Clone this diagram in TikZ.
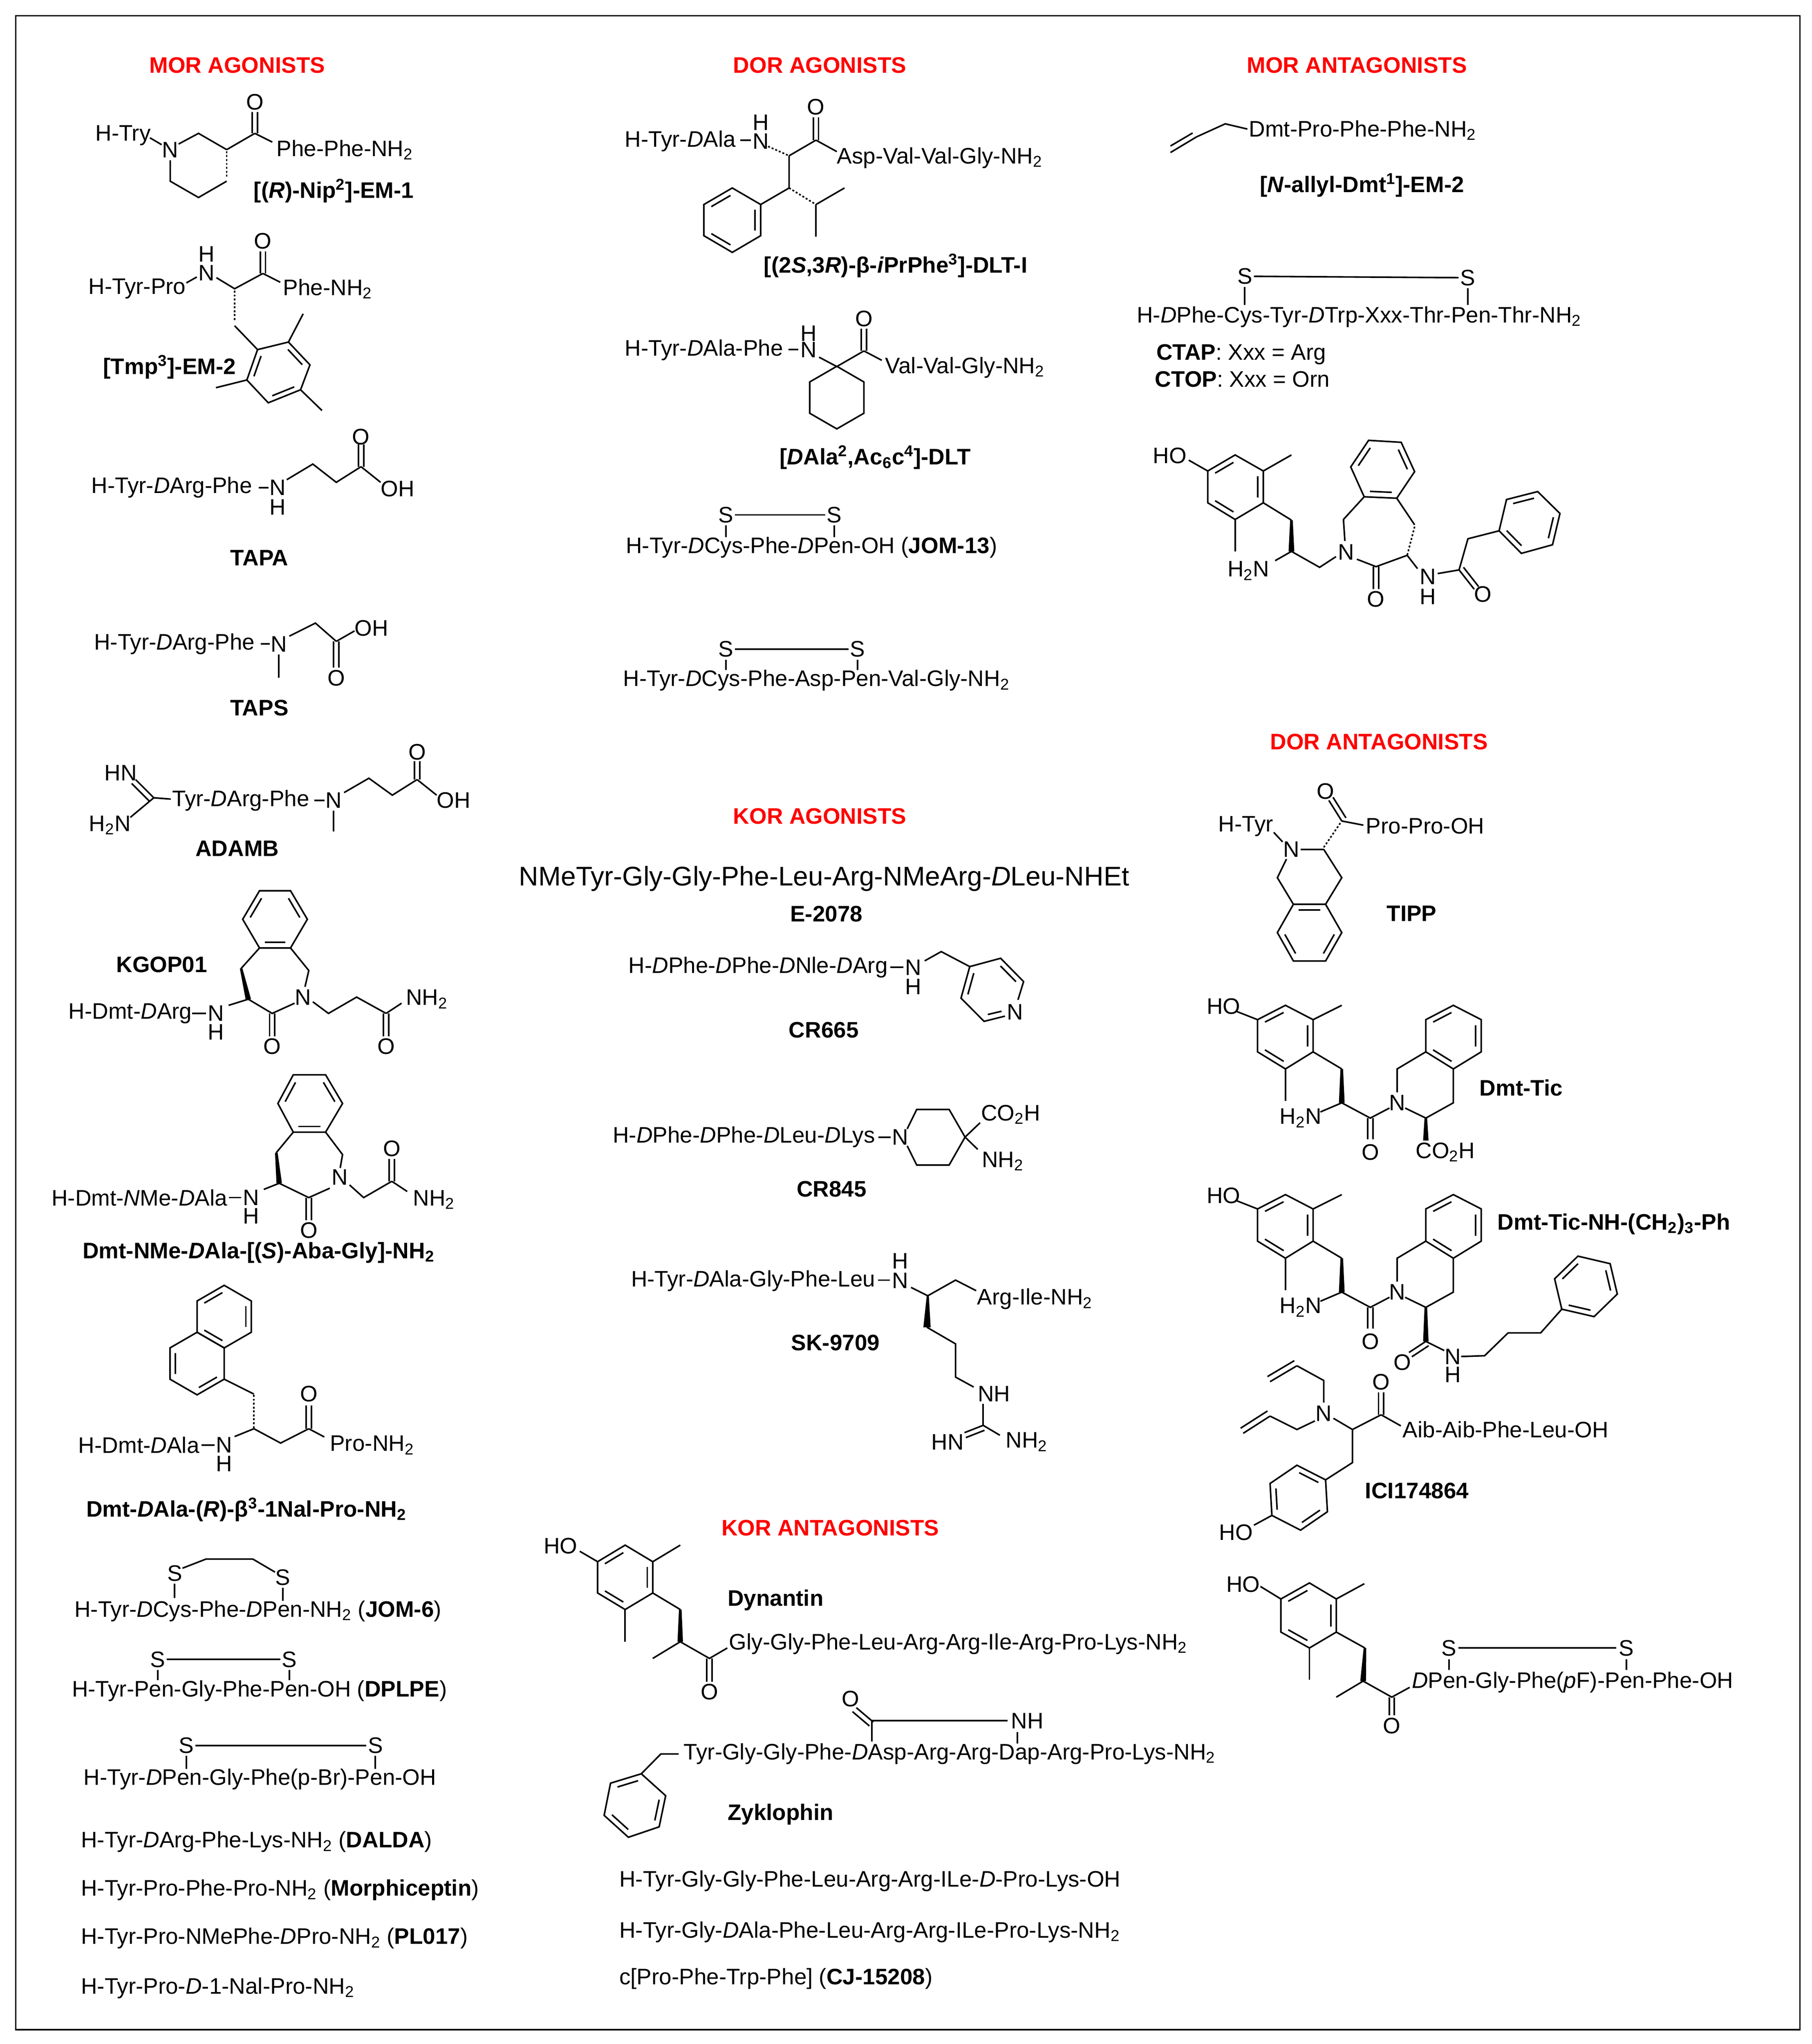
\documentclass[tikz,border=0pt]{standalone}
\usepackage{fontspec}
\setmainfont{Liberation Sans}
\usetikzlibrary{calc}
\newcommand\Dd{\textit{D}}
\newcommand\Sb[1]{\textsubscript{#1}}
\newcommand\ring[4]{\draw[bond] (#1,#2)+(#4:#3) -- +(#4+60:#3) -- +(#4+120:#3) -- +(#4+180:#3) -- +(#4+240:#3) -- +(#4+300:#3) -- cycle;}
% inner double-bond line of edge A-B toward centre C
\newcommand\ib[3]{\draw[bond,shorten <=1.6pt,shorten >=1.6pt] ($(#1)!0.2!(#3)$) -- ($(#2)!0.2!(#3)$);}
\newcommand\DmtTic{%
\node[atm] at (938.7,772) {HO};
\draw[bond] (949,776) -- (964.8,782.2);
\draw[bond] (964.8,782.2) -- (986.2,771.2) -- (1007.4,782.2) -- (1007.4,806.9) -- (986.2,820) -- (964.8,806.9) -- cycle;
\ib{964.8,782.2}{986.2,771.2}{986.2,795.1}\ib{1007.4,782.2}{1007.4,806.9}{986.2,795.1}\ib{964.8,806.9}{986.2,820}{986.2,795.1}
\draw[bond] (1007.4,782.2) -- (1029.4,771.2);
\draw[bond] (986.2,820) -- (986.2,844.6);
\draw[bond] (1007.4,806.9) -- (1029.4,820);
\fill (1028.4,820) -- (1030.4,820) -- (1031.6,846) -- (1027.2,846) -- cycle;
\draw[bond] (1029.4,846) -- (1013,853);
\node[atm] at (997.8,857.7) {H\Sb{2}N};
\draw[bond] (1029.4,846) -- (1051.3,857.7) -- (1066,850);
\draw[bond] (1049.3,857.7) -- (1049.3,874); \draw[bond] (1053.3,857.7) -- (1053.3,874);
\node[atm] at (1051.3,883.8) {O};
\node[atm] at (1071.9,846) {N};
\draw[bond] (1071.9,838) -- (1071.9,820) -- (1093.9,806.9);
\draw[bond] (1093.9,806.9) -- (1093.9,782.2) -- (1115,771.2) -- (1136.4,782.2) -- (1136.4,806.9) -- (1115,820) -- cycle;
\ib{1093.9,782.2}{1115,771.2}{1115,795.1}\ib{1136.4,782.2}{1136.4,806.9}{1115,795.1}\ib{1093.9,806.9}{1115,820}{1115,795.1}
\draw[bond] (1115,820) -- (1115,846) -- (1093.9,857.7) -- (1078,850);}
\begin{document}
\begin{tikzpicture}[x=1pt,y=-1pt,
 bond/.style={line width=1.2pt},
 hd/.style={text=red,font=\fontsize{17.2}{20}\selectfont\bfseries,inner sep=0},
 tx/.style={anchor=west,inner sep=0,font=\fontsize{17.2}{20}\selectfont},
 bd/.style={anchor=west,inner sep=0,font=\fontsize{17.2}{20}\selectfont\bfseries},
 atm/.style={inner sep=0,font=\fontsize{17.2}{20}\selectfont},
 bdc/.style={inner sep=0,font=\fontsize{17.2}{20}\selectfont\bfseries},
 wedge/.style={line width=3pt},
 hash/.style={line width=1.2pt,dash pattern=on 1.5pt off 1.5pt}]
\useasboundingbox (0,0) rectangle (1390,1568);
\draw[line width=1pt] (12,12) rectangle (1381,1557);
% headings
\node[hd] (h1) at (182,50) {MOR AGONISTS};
\node[hd] (h2) at (629,50) {DOR AGONISTS};
\node[hd] (h3) at (1041,50) {MOR ANTAGONISTS};
\node[hd] (h4) at (629,626) {KOR AGONISTS};
\node[hd] (h5) at (637,1172) {KOR ANTAGONISTS};
\node[hd] (h6) at (1058,569) {DOR ANTAGONISTS};
% ===== left column
% Nip
\node[tx] at (73,104) {H-Try};
\draw[bond] (115,105.7) -- (124,111);
\node[atm] at (130.6,115) {N};
\draw[bond] (137,110.5) -- (152.3,102.3) -- (173.9,114.8);
\draw[hash] (173.9,116) -- (173.9,136);
\draw[bond] (173.9,139) -- (152.3,151.5) -- (130.6,139) -- (130.6,123);
\draw[bond] (173.9,114.8) -- (195.5,102.3);
\draw[bond] (193.5,102.3) -- (193.5,86); \draw[bond] (197.5,102.3) -- (197.5,86);
\node[atm] at (195.5,78.2) {O};
\draw[bond] (195.5,102.3) -- (208.9,109);
\node[tx] at (212,115) {Phe-Phe-NH\Sb{2}};
\node[bd] at (194.5,146.5) {[(\textit{R})-Nip\textsuperscript{2}]-EM-1};
% Tmp
\node[tx] at (67.8,221.5) {H-Tyr-Pro};
\draw[bond] (143,217) -- (151,212.5);
\node[atm] at (158.5,195) {H}; \node[atm] at (158.5,209.5) {N};
\draw[bond] (166,213) -- (180,221.5) -- (201.7,209.8);
\draw[bond] (199.7,209.8) -- (199.7,193); \draw[bond] (203.7,209.8) -- (203.7,193);
\node[atm] at (201.7,184.8) {O};
\draw[bond] (201.7,209.8) -- (215,216.5);
\node[tx] at (217,221.5) {Phe-NH\Sb{2}};
\draw[hash] (180,223) -- (180,245.7);
\draw[bond] (180,249.9) -- (197.6,268.2);
\draw[bond] (197.6,268.2) -- (221.3,262.4) -- (237.8,279.9) -- (230.6,299) -- (205.8,309) -- (189.4,291.5) -- cycle;
\ib{197.6,268.2}{189.4,291.5}{213.8,285}\ib{221.3,262.4}{237.8,279.9}{213.8,285}\ib{230.6,299}{205.8,309}{213.8,285}
\draw[bond] (221.3,262.4) -- (232.6,240.7);
\draw[bond] (189.4,291.5) -- (165.7,297.4);
\draw[bond] (230.6,299) -- (247,314.9);
\node[bd] at (79,281.5) {[Tmp\textsuperscript{3}]-EM-2};
% TAPA
\node[tx] at (70,374) {H-Tyr-\Dd Arg-Phe};
\draw[bond] (198.5,374) -- (206,374);
\node[atm] at (213,374) {N}; \node[atm] at (213,389) {H};
\draw[bond] (220,368) -- (240,356) -- (258,370) -- (277,358);
\draw[bond] (275,358) -- (275,341); \draw[bond] (279,358) -- (279,341);
\node[atm] at (277,335) {O};
\draw[bond] (277,358) -- (292,370);
\node[tx] at (292,375) {OH};
\node[bdc] at (199,428) {TAPA};
% TAPS
\node[tx] at (72,494) {H-Tyr-\Dd Arg-Phe};
\draw[bond] (200,494) -- (207,494);
\node[atm] at (214,494) {N};
\draw[bond] (214,502) -- (214,520);
\draw[bond] (222,488) -- (242,478) -- (258,492);
\draw[bond] (256,492) -- (256,512); \draw[bond] (260,492) -- (260,512);
\node[atm] at (258,520) {O};
\draw[bond] (258,492) -- (272,484);
\node[tx] at (272,482) {OH};
\node[bdc] at (199,543) {TAPS};
% ADAMB
\node[tx] at (80,593) {HN}; \node[tx] at (68,633) {H\Sb{2}N};
\draw[bond] (104,598) -- (118,612); \draw[bond] (101,601) -- (115,615);
\draw[bond] (100,627) -- (118,612) -- (131,613);
\node[tx] at (132,614) {Tyr-\Dd Arg-Phe};
\draw[bond] (241,614) -- (249,614);
\node[atm] at (256,614) {N};
\draw[bond] (256,622) -- (256,638);
\draw[bond] (264,608) -- (283,597) -- (301,610) -- (320,598);
\draw[bond] (318,598) -- (318,584); \draw[bond] (322,598) -- (322,584);
\node[atm] at (320,577) {O};
\draw[bond] (320,598) -- (335,610);
\node[tx] at (335,614) {OH};
\node[bdc] at (182,651) {ADAMB};
% KGOP01
\node[bd] at (89,740) {KGOP01};
\node[tx] at (52.4,777.4) {H-Dmt-\Dd Arg};
\draw[bond] (147.3,777.4) -- (158.1,777.4);
\node[atm] at (165.7,777.4) {N}; \node[atm] at (165.7,791.6) {H};
\draw[bond] (175.4,771.2) -- (190.5,766.5);
\fill (184,742.9) -- (186,742.9) -- (192.6,766.5) -- (188.4,766.5) -- cycle;
\draw[bond] (185,742.9) -- (199.1,727.2);
\draw[bond] (199.1,727.2) -- (186.2,705.2) -- (199.1,683.3) -- (222.9,683.3) -- (235.8,705.2) -- (222.9,727.2) -- cycle;
\ib{186.2,705.2}{199.1,683.3}{211,705.2}\ib{222.9,683.3}{235.8,705.2}{211,705.2}\ib{199.1,727.2}{222.9,727.2}{211,705.2}
\draw[bond] (222.9,727.2) -- (236.9,744.5) -- (234,757);
\node[atm] at (232.6,765) {N};
\draw[bond] (190.5,766.5) -- (208.8,777.4) -- (226,769.6);
\draw[bond] (206.8,777.4) -- (206.8,795); \draw[bond] (210.8,777.4) -- (210.8,795);
\node[atm] at (208.8,802.6) {O};
\draw[bond] (240,768.5) -- (252,777.4) -- (273.6,764.9) -- (296.2,777.4);
\draw[bond] (294.2,777.4) -- (294.2,795); \draw[bond] (298.2,777.4) -- (298.2,795);
\node[atm] at (296.2,802.6) {O};
\draw[bond] (296.2,777.4) -- (308.1,769.6);
\node[tx] at (311.3,766.5) {NH\Sb{2}};
% Dmt-NMe-DAla
\node[tx] at (39.4,918.7) {H-Dmt-\textit{N}Me-\Dd Ala};
\draw[bond] (175.5,918.7) -- (185.1,918.7);
\node[atm] at (192.6,918.7) {N}; \node[atm] at (192.6,932.8) {H};
\draw[bond] (202.4,912.4) -- (214.2,907.7);
\fill (211,884.2) -- (213,884.2) -- (216.3,907.7) -- (212.1,907.7) -- cycle;
\draw[bond] (212,884.2) -- (225,868.5);
\draw[bond] (225,868.5) -- (213.2,846.5) -- (225,824.5) -- (249.8,824.5) -- (262.8,846.5) -- (249.8,868.5) -- cycle;
\ib{213.2,846.5}{225,824.5}{237.4,846.5}\ib{249.8,824.5}{262.8,846.5}{237.4,846.5}\ib{225,868.5}{249.8,868.5}{237.4,846.5}
\draw[bond] (249.8,868.5) -- (262.8,885.7) -- (261,896);
\node[atm] at (260.6,903) {N};
\draw[bond] (214.2,907.7) -- (236.9,918.7) -- (253,911.5);
\draw[bond] (234.9,918.7) -- (234.9,936); \draw[bond] (238.9,918.7) -- (238.9,936);
\node[atm] at (236.9,943.8) {O};
\draw[bond] (268.2,909) -- (279,918.7) -- (300.6,906.2);
\draw[bond] (298.6,906.2) -- (298.6,889); \draw[bond] (302.6,906.2) -- (302.6,889);
\node[atm] at (300.6,881) {O};
\draw[bond] (300.6,906.2) -- (312.4,914);
\node[tx] at (316.7,920.3) {NH\Sb{2}};
\node[bd] at (63.2,961) {Dmt-NMe-\Dd Ala-[(\textit{S})-Aba-Gly]-NH\Sb{2}};
% Nal
\ring{172}{1010}{24}{30}
\ring{151.2}{1046}{24}{30}
\ib{151.2,998}{172,986}{172,1010}\ib{192.8,998}{192.8,1022}{172,1010}\ib{151.2,1022}{172,1034}{172,1010}
\ib{130.4,1034}{130.4,1058}{151.2,1046}\ib{151.2,1070}{172,1058}{151.2,1046}
\draw[bond] (172,1058) -- (194.8,1069.4);
\draw[hash] (194.8,1070) -- (194.8,1096);
\node[tx] at (60,1108.6) {H-Dmt-\Dd Ala};
\draw[bond] (154.5,1108.6) -- (164.5,1108.6);
\node[atm] at (172,1108.6) {N}; \node[atm] at (172,1123) {H};
\draw[bond] (180,1102) -- (194.8,1096) -- (215.3,1107) -- (236.9,1096);
\draw[bond] (234.9,1096) -- (234.9,1078); \draw[bond] (238.9,1096) -- (238.9,1078);
\node[atm] at (236.9,1069.4) {O};
\draw[bond] (236.9,1096) -- (248.8,1102.3);
\node[tx] at (253,1108.6) {Pro-NH\Sb{2}};
\node[bd] at (66,1158) {Dmt-\Dd Ala-(\textit{R})-β\textsuperscript{3}-1Nal-Pro-NH\Sb{2}};
% JOM-6
\node[atm] at (134,1207) {S}; \node[atm] at (217,1210) {S};
\draw[bond] (134,1215) -- (134,1226);
\draw[bond] (140,1203) -- (158,1196) -- (194,1196) -- (211,1206);
\draw[bond] (217,1218) -- (217,1228);
\node[tx] at (57,1236) {H-Tyr-\Dd Cys-Phe-\Dd Pen-NH\Sb{2} (\textbf{JOM-6})};
% DPLPE
\node[atm] at (121,1273) {S}; \node[atm] at (222,1273) {S};
\draw[bond] (128,1273) -- (215,1273);
\draw[bond] (121,1281) -- (121,1289); \draw[bond] (222,1281) -- (222,1289);
\node[tx] at (55,1297) {H-Tyr-Pen-Gly-Phe-Pen-OH (\textbf{DPLPE})};
\node[atm] at (143,1339) {S}; \node[atm] at (288,1339) {S};
\draw[bond] (150,1339) -- (281,1339);
\draw[bond] (143,1347) -- (143,1357); \draw[bond] (288,1347) -- (288,1357);
\node[tx] at (64,1365) {H-Tyr-\Dd Pen-Gly-Phe(p-Br)-Pen-OH};
\node[tx] at (62,1413) {H-Tyr-\Dd Arg-Phe-Lys-NH\Sb{2} (\textbf{DALDA})};
\node[tx] at (62,1450) {H-Tyr-Pro-Phe-Pro-NH\Sb{2} (\textbf{Morphiceptin})};
\node[tx] at (62,1487) {H-Tyr-Pro-NMePhe-\Dd Pro-NH\Sb{2} (\textbf{PL017})};
\node[tx] at (62,1525) {H-Tyr-Pro-\textit{D}-1-Nal-Pro-NH\Sb{2}};
% ===== middle column
\node[tx] at (479.2,108.3) {H-Tyr-\Dd Ala};
\draw[bond] (568,107.5) -- (576,107.5);
\node[atm] at (583.6,94) {H}; \node[atm] at (583.6,108.3) {N};
\draw[hash] (589.3,112.3) -- (605.4,119.5);
\draw[bond] (605.4,119.5) -- (626,107.5);
\draw[bond] (624,107.5) -- (624,90); \draw[bond] (628,107.5) -- (628,90);
\node[atm] at (626,82) {O};
\draw[bond] (626,107.5) -- (642,116.3);
\node[tx] at (642,121) {Asp-Val-Val-Gly-NH\Sb{2}};
\draw[bond] (605.4,119.5) -- (605.4,144.2) -- (583.6,156.9);
\draw[bond] (583.6,156.9) -- (561.8,144.2) -- (540,156.9) -- (540,180.8) -- (561.8,193.6) -- (583.6,180.8) -- cycle;
\ib{561.8,144.2}{540,156.9}{561.8,168.9}\ib{583.6,156.9}{583.6,180.8}{561.8,168.9}\ib{540,180.8}{561.8,193.6}{561.8,168.9}
\draw[hash] (605.4,144.2) -- (626,156.9);
\draw[bond] (626,156.9) -- (647.9,144.2); \draw[bond] (626,156.9) -- (626,181.6);
\node[bd] at (585.9,203.9) {[(2\textit{S},3\textit{R})-β-\textit{i}PrPhe\textsuperscript{3}]-DLT-I};
\node[tx] at (479.2,268.4) {H-Tyr-\Dd Ala-Phe};
\draw[bond] (605,268) -- (612.5,268);
\node[atm] at (620.3,255.7) {H}; \node[atm] at (620.3,268.4) {N};
\draw[bond] (628.4,274) -- (642,281.2);
\ring{642}{305}{24}{30}
\draw[bond] (642,281.2) -- (662.8,269.2);
\draw[bond] (660.8,269.2) -- (660.8,252); \draw[bond] (664.8,269.2) -- (664.8,252);
\node[atm] at (662.8,244.5) {O};
\draw[bond] (662.8,269.2) -- (676.5,276.4);
\node[tx] at (679,282) {Val-Val-Gly-NH\Sb{2}};
\node[bd] at (598,351) {[\Dd Ala\textsuperscript{2},Ac\Sb{6}c\textsuperscript{4}]-DLT};
\node[atm] at (557,395) {S}; \node[atm] at (640,395) {S};
\draw[bond] (564,395) -- (633,395);
\draw[bond] (557,403) -- (557,412); \draw[bond] (640,403) -- (640,412);
\node[tx] at (480,420) {H-Tyr-\Dd Cys-Phe-\Dd Pen-OH (\textbf{JOM-13})};
\node[atm] at (557,498) {S}; \node[atm] at (658,498) {S};
\draw[bond] (564,498) -- (651,498);
\draw[bond] (557,506) -- (557,514); \draw[bond] (658,506) -- (658,514);
\node[tx] at (478,522) {H-Tyr-\Dd Cys-Phe-Asp-Pen-Val-Gly-NH\Sb{2}};
% KOR agonists
\node[anchor=west,inner sep=0,font=\fontsize{20.7}{24}\selectfont] at (398,674) {NMeTyr-Gly-Gly-Phe-Leu-Arg-NMeArg-\Dd Leu-NHEt};
\node[bdc] at (634,701) {E-2078};
\node[tx] at (482,742) {H-\Dd Phe-\Dd Phe-\Dd Nle-\Dd Arg};
\draw[bond] (683,742) -- (692.9,742);
\node[atm] at (700.8,742.2) {N}; \node[atm] at (700.8,756.8) {H};
\draw[bond] (709.4,737.1) -- (722.1,730) -- (744,741.5);
\draw[bond] (744,741.5) -- (767.7,735.1) -- (785.3,753) -- (781,767);
\draw[bond] (771,779.5) -- (755,783.5) -- (737.3,765.7) -- (744,741.5);
\ib{737.3,765.7}{744,741.5}{761.5,759}\ib{767.7,735.1}{785.3,753}{761.5,759}\ib{755,783.5}{772,779.5}{761.5,759}
\node[atm] at (778.7,776.5) {N};
\node[bdc] at (632,790) {CR665};
\node[tx] at (470,872.3) {H-\Dd Phe-\Dd Phe-\Dd Leu-\Dd Lys};
\draw[bond] (674,872.3) -- (683.2,872.3);
\node[atm] at (690.5,872.3) {N};
\draw[bond] (696,866) -- (703.3,851.1) -- (728.2,851.1) -- (740.4,872.3) -- (728.2,893.7) -- (703.3,893.7) -- (696,879);
\draw[bond] (740.4,872.3) -- (751.9,861.3); \draw[bond] (740.4,872.3) -- (750.1,881.7);
\node[tx] at (752.5,855) {CO\Sb{2}H};
\node[tx] at (753.1,890.7) {NH\Sb{2}};
\node[bdc] at (638,912) {CR845};
\node[tx] at (484,982.5) {H-Tyr-\Dd Ala-Gly-Phe-Leu};
\draw[bond] (673.5,982) -- (682.6,982);
\node[atm] at (690.5,967.2) {H}; \node[atm] at (690.5,982.5) {N};
\draw[bond] (699,987.6) -- (711.8,994) -- (733.1,982) -- (748.9,990.1);
\node[tx] at (749.5,996.5) {Arg-Ile-NH\Sb{2}};
\fill (711,994) -- (712.6,994) -- (714,1018.2) -- (708.4,1018.2) -- cycle;
\draw[bond] (711.2,1018.2) -- (733.1,1030.9) -- (733.1,1056.4) -- (747,1064);
\node[tx] at (750,1069.2) {NH};
\draw[bond] (754.3,1077) -- (754.3,1093.4);
\draw[bond] (754.3,1093.4) -- (740,1099); \draw[bond] (755.3,1097.2) -- (741,1102.8);
\draw[bond] (754.3,1093.4) -- (767.1,1101);
\node[atm] at (727,1106.1) {HN}; \node[tx] at (771.4,1106.1) {NH\Sb{2}};
\node[bdc] at (641,1030) {SK-9709};
% KOR antagonists
\node[atm] at (430,1186) {HO};
\draw[bond] (444.8,1190) -- (458.5,1198);
\draw[bond] (458.5,1198) -- (479.6,1185.3) -- (500.8,1198) -- (500.8,1222) -- (479.6,1234.7) -- (458.5,1222) -- cycle;
\ib{458.5,1198}{479.6,1185.3}{479.6,1210}\ib{500.8,1198}{500.8,1222}{479.6,1210}\ib{458.5,1222}{479.6,1234.7}{479.6,1210}
\draw[bond] (500.8,1198) -- (521.9,1185.3);
\draw[bond] (479.6,1234.7) -- (479.6,1259.4);
\draw[bond] (500.8,1222) -- (521.9,1234.7);
\fill (520.9,1234.7) -- (522.9,1234.7) -- (524,1259.4) -- (519.8,1259.4) -- cycle;
\draw[bond] (521.9,1259.4) -- (500.8,1272.2);
\draw[bond] (521.9,1259.4) -- (544.3,1272.2) -- (558,1264.2);
\draw[bond] (542.3,1272.2) -- (542.3,1290); \draw[bond] (546.3,1272.2) -- (546.3,1290);
\node[atm] at (544.3,1297.7) {O};
\node[tx] at (559.2,1261) {Gly-Gly-Phe-Leu-Arg-Arg-Ile-Arg-Pro-Lys-NH\Sb{2}};
\node[bd] at (558,1227.5) {Dynantin};
\node[atm] at (652.5,1303.3) {O};
\draw[bond] (657,1310) -- (670,1321); \draw[bond] (654,1313) -- (667,1324);
\draw[bond] (669,1320) -- (773.1,1320);
\node[tx] at (775.6,1320) {NH};
\draw[bond] (780.6,1328.8) -- (780.6,1337.6);
\draw[bond] (669,1320) -- (669,1336);
\draw[bond] (492,1360.7) -- (510.7,1377.5) -- (505.7,1401.4) -- (482.1,1409.4) -- (463.5,1392.6) -- (468.4,1367.9) -- cycle;
\ib{468.4,1367.9}{492,1360.7}{487.4,1384.9}\ib{510.7,1377.5}{505.7,1401.4}{487.4,1384.9}\ib{482.1,1409.4}{463.5,1392.6}{487.4,1384.9}
\draw[bond] (492,1360.7) -- (507,1345.5) -- (520.7,1345.5);
\node[tx] at (524.4,1345.5) {Tyr-Gly-Gly-Phe-\Dd Asp-Arg-Arg-Dap-Arg-Pro-Lys-NH\Sb{2}};
\node[bd] at (558,1391.8) {Zyklophin};
\node[tx] at (475,1443) {H-Tyr-Gly-Gly-Phe-Leu-Arg-Arg-ILe-\textit{D}-Pro-Lys-OH};
\node[tx] at (475,1482) {H-Tyr-Gly-\Dd Ala-Phe-Leu-Arg-Arg-ILe-Pro-Lys-NH\Sb{2}};
\node[tx] at (475,1518) {c[Pro-Phe-Trp-Phe] (\textbf{CJ-15208})};
% ===== right column
\draw[bond] (898,117) -- (918,105); \draw[bond] (898,112) -- (915,102);
\draw[bond] (918,105) -- (940,95) -- (957,99);
\node[tx] at (958,100) {Dmt-Pro-Phe-Phe-NH\Sb{2}};
\node[bdc] at (1045,142) {[\textit{N}-allyl-Dmt\textsuperscript{1}]-EM-2};
\node[atm] at (955,212) {S}; \node[atm] at (1126,213) {S};
\draw[bond] (962,212) -- (1119,213);
\draw[bond] (955,220) -- (955,234); \draw[bond] (1126,221) -- (1126,234);
\node[tx] at (872,243) {H-\Dd Phe-Cys-Tyr-\Dd Trp-Xxx-Thr-Pen-Thr-NH\Sb{2}};
\node[tx] at (887,272) {\textbf{CTAP}: Xxx = Arg};
\node[tx] at (886,291) {\textbf{CTOP}: Xxx = Orn};
% benzazepine compound
\node[atm] at (897.5,349.5) {HO};
\draw[bond] (912,353) -- (926.6,361.3);
\draw[bond] (926.6,361.3) -- (947.6,349) -- (969.2,361.3) -- (969.2,385.7) -- (947.6,398.5) -- (926.6,385.7) -- cycle;
\ib{926.6,361.3}{947.6,349}{948,373.6}\ib{969.2,361.3}{969.2,385.7}{948,373.6}\ib{926.6,385.7}{947.6,398.5}{948,373.6}
\draw[bond] (969.2,361.3) -- (990.8,349);
\draw[bond] (947.6,398.5) -- (947.6,423);
\draw[bond] (969.2,385.7) -- (990.8,399);
\fill (989.8,399) -- (991.8,399) -- (993,423) -- (988.6,423) -- cycle;
\draw[bond] (990.8,423) -- (978.3,430.1);
\node[atm] at (957.8,437.8) {H\Sb{2}N};
\draw[bond] (990.8,423) -- (1012.4,435.2) -- (1025,427);
\node[atm] at (1032.9,423.5) {N};
\draw[bond] (1031.8,415) -- (1030.7,398.5) -- (1046.6,381.1);
\draw[bond] (1046.6,381.1) -- (1036.3,358.2) -- (1050,337.8) -- (1075,339.3) -- (1085.3,361.8) -- (1071.6,382.2) -- cycle;
\ib{1036.3,358.2}{1050,337.8}{1060.8,360}\ib{1075,339.3}{1085.3,361.8}{1060.8,360}\ib{1046.6,381.1}{1071.6,382.2}{1060.8,360}
\draw[bond] (1071.6,382.2) -- (1085.3,402.6);
\draw[hash] (1085.3,404) -- (1079.6,426);
\draw[bond] (1041,429) -- (1055.7,434.7) -- (1079.6,426);
\draw[bond] (1053.7,434.7) -- (1053.7,452); \draw[bond] (1057.7,434.7) -- (1057.7,452);
\node[atm] at (1055.5,459.7) {O};
\draw[bond] (1079.6,426) -- (1087.5,436.2);
\node[atm] at (1095.5,442.3) {N}; \node[atm] at (1095.5,457.7) {H};
\draw[bond] (1103,440) -- (1119.4,437.2);
\draw[bond] (1119.4,437.2) -- (1131,452); \draw[bond] (1122.8,435.2) -- (1134.4,450);
\node[atm] at (1137.6,456) {O};
\draw[bond] (1119.4,437.2) -- (1126.2,413.3) -- (1150.1,407.2);
\draw[bond] (1150.1,407.2) -- (1155.8,383.2) -- (1179.7,377.1) -- (1196.8,393.9) -- (1191.1,417.9) -- (1167.2,424.5) -- cycle;
\ib{1155.8,383.2}{1179.7,377.1}{1173.4,400.6}\ib{1196.8,393.9}{1191.1,417.9}{1173.4,400.6}\ib{1167.2,424.5}{1150.1,407.2}{1173.4,400.6}
% DOR antagonists: TIPP
\node[tx] at (934.6,634) {H-Tyr};
\draw[bond] (977.2,638.5) -- (984,645.8);
\node[atm] at (990.9,651.6) {N};
\draw[bond] (998,651.6) -- (1015.6,651.6);
\draw[hash] (1015.6,650) -- (1029.4,629.8);
\draw[bond] (1029.4,629.8) -- (1019.5,614); \draw[bond] (1032.6,627.4) -- (1022.7,611.6);
\node[atm] at (1017,607) {O};
\draw[bond] (1029.4,629.8) -- (1046,633);
\node[tx] at (1047.8,633.6) {Pro-Pro-OH};
\draw[bond] (1015.6,651.6) -- (1029.4,673.3) -- (1017,693.7);
\draw[bond] (987,659) -- (980,673.3) -- (992.3,693.7);
\draw[bond] (992.3,693.7) -- (1017,693.7) -- (1029.4,715.4) -- (1017,737.2) -- (992.3,737.2) -- (980,715.4) -- cycle;
\ib{992.3,693.7}{1017,693.7}{1004.7,715.4}\ib{1029.4,715.4}{1017,737.2}{1004.7,715.4}\ib{980,715.4}{992.3,737.2}{1004.7,715.4}
\node[bd] at (1063.7,700.9) {TIPP};
% Dmt-Tic
\DmtTic
\fill (1092.9,857.7) -- (1094.9,857.7) -- (1096,875) -- (1091.8,875) -- cycle;
\node[tx] at (1086,883.8) {CO\Sb{2}H};
\node[bd] at (1135,834.5) {Dmt-Tic};
% Dmt-Tic-NH-(CH2)3-Ph
\begin{scope}[shift={(0,145.2)}]
\DmtTic
\end{scope}
\fill (1092.9,1002.9) -- (1094.9,1002.9) -- (1096,1029) -- (1091.8,1029) -- cycle;
\draw[bond] (1093.9,1029) -- (1081,1037.5); \draw[bond] (1096.1,1032.3) -- (1083.2,1040.8);
\node[atm] at (1076,1045) {O};
\draw[bond] (1093.9,1029) -- (1108,1036);
\node[atm] at (1114.5,1040.6) {N}; \node[atm] at (1114.5,1054.5) {H};
\draw[bond] (1121,1040.6) -- (1139,1040) -- (1157,1022.5) -- (1182,1022.5) -- (1198.2,1004.3);
\draw[bond] (1198.2,1004.3) -- (1192.7,981) -- (1210.6,963.6) -- (1235.3,969.4) -- (1240.8,992.7) -- (1223,1010) -- cycle;
\ib{1192.7,981}{1210.6,963.6}{1216.8,987}\ib{1235.3,969.4}{1240.8,992.7}{1216.8,987}\ib{1223,1010}{1198.2,1004.3}{1216.8,987}
\node[bd] at (1148.8,939) {Dmt-Tic-NH-(CH\Sb{2})\Sb{3}-Ph};
% ICI174864
\draw[bond] (974.4,1059.9) -- (995,1047.7); \draw[bond] (972.4,1056) -- (993,1043.8);
\draw[bond] (995,1047.7) -- (1015.6,1059) -- (1015.6,1075.9);
\draw[bond] (953.8,1099.5) -- (974.4,1086.3); \draw[bond] (951.8,1095.6) -- (972.4,1082.4);
\draw[bond] (974.4,1086.3) -- (995,1096.6) -- (1008.8,1090);
\node[atm] at (1015.6,1084.4) {N};
\draw[bond] (1023,1088) -- (1037.6,1096.6) -- (1059.6,1085.3);
\draw[bond] (1057.6,1085.3) -- (1057.6,1068); \draw[bond] (1061.6,1085.3) -- (1061.6,1068);
\node[atm] at (1059.6,1060) {O};
\draw[bond] (1059.6,1085.3) -- (1074.7,1093.8);
\node[tx] at (1076,1096.6) {Aib-Aib-Phe-Leu-OH};
\draw[bond] (1037.6,1096.6) -- (1037.6,1122) -- (1017,1135.2);
\draw[bond] (1017,1135.2) -- (995,1124) -- (974.4,1138) -- (975.8,1162.5) -- (997.8,1173.8) -- (1018.4,1159.7) -- cycle;
\ib{995,1124}{1017,1135.2}{996.4,1148.9}\ib{974.4,1138}{975.8,1162.5}{996.4,1148.9}\ib{997.8,1173.8}{1018.4,1159.7}{996.4,1148.9}
\draw[bond] (975.8,1162.5) -- (962,1170);
\node[atm] at (948.3,1175.7) {HO};
\node[bd] at (1047.2,1143.7) {ICI174864};
% last compound
\node[atm] at (953.8,1215.3) {HO};
\draw[bond] (967,1217) -- (982.7,1226.6);
\draw[bond] (982.7,1226.6) -- (1004.6,1214.3) -- (1025.2,1226.6) -- (1025.2,1252) -- (1004.6,1264.2) -- (982.7,1252) -- cycle;
\ib{982.7,1226.6}{1004.6,1214.3}{1004,1239.3}\ib{1025.2,1226.6}{1025.2,1252}{1004,1239.3}\ib{982.7,1252}{1004.6,1264.2}{1004,1239.3}
\draw[bond] (1025.2,1226.6) -- (1046.7,1214.9);
\draw[bond] (1004.6,1264.2) -- (1004.6,1288.7);
\draw[bond] (1025.2,1252) -- (1047.2,1264.2);
\fill (1046.2,1264.2) -- (1048.2,1264.2) -- (1048,1289.6) -- (1043.6,1289.6) -- cycle;
\draw[bond] (1045.8,1289.6) -- (1025.2,1301.9);
\draw[bond] (1045.8,1289.6) -- (1067.8,1301.9) -- (1081.5,1294.4);
\draw[bond] (1065.8,1301.9) -- (1065.8,1316); \draw[bond] (1069.8,1301.9) -- (1069.8,1316);
\node[atm] at (1067.8,1324) {O};
\node[tx] at (1083,1290.6) {\Dd Pen-Gly-Phe(\textit{p}F)-Pen-Phe-OH};
\node[atm] at (1111.7,1264.2) {S}; \node[atm] at (1247.7,1264.2) {S};
\draw[bond] (1119,1264.2) -- (1240,1264.2);
\draw[bond] (1111.7,1273) -- (1111.7,1281); \draw[bond] (1247.7,1273) -- (1247.7,1281);
\end{tikzpicture}
\end{document}
